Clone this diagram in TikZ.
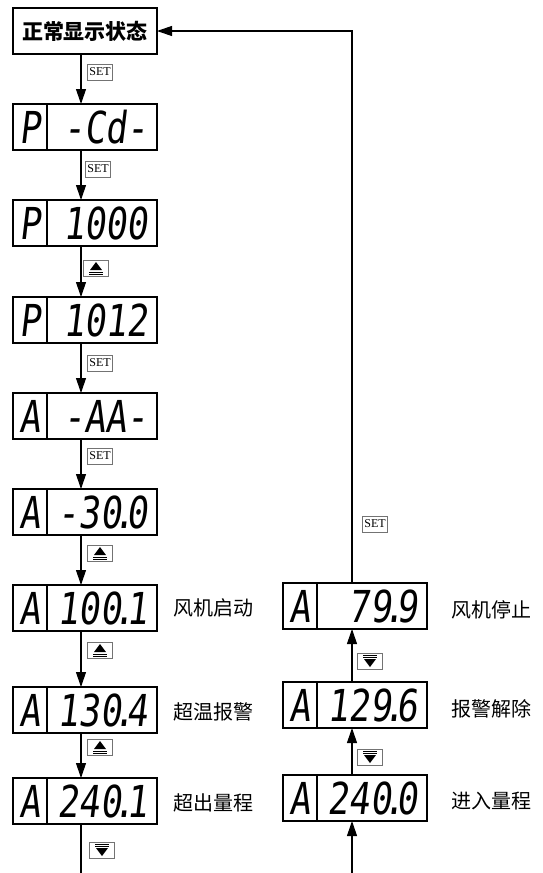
\documentclass[tikz,border=0pt]{standalone}
\usepackage{fontspec}
\newfontfamily\cjk{Noto Sans CJK SC}
\newfontfamily\lcdfont[FakeSlant=0.12,FakeStretch=0.8]{DejaVu Sans Mono}
\newfontfamily\keyfont{Liberation Serif}
\usetikzlibrary{arrows.meta}
\newcommand\dt{\kern-0.18em.\kern-0.18em}
\tikzset{
  ln/.style={line width=1.1pt},
  arr/.style={ln,-{Triangle[length=15pt,width=10pt]}},
  dbox/.style={draw,ln,minimum width=144pt,minimum height=46pt,inner sep=0pt,outer sep=0pt},
  lcd/.style={font=\lcdfont\fontsize{44}{44}\selectfont,inner sep=0pt,text height=32pt,text depth=0pt},
  keybox/.style={draw=black!55,line width=0.6pt,fill=white,minimum width=25pt,minimum height=16pt,inner sep=0pt},
  setkey/.style={keybox,font=\keyfont\fontsize{12}{12}\selectfont},
  side/.style={font=\cjk\fontsize{20}{20}\selectfont,inner sep=0pt},
}
\newcommand\disp[4]{%
  \node[dbox] (#1) at #2 {};
  \draw[ln] ([xshift=34pt]#1.north west) -- ([xshift=34pt]#1.south west);
  \node[lcd] (#1-l) at ([xshift=17pt]#1.west) {#3};
  \node[lcd,anchor=east] (#1-v) at ([xshift=-9pt]#1.east) {#4};
}
\newcommand\keyup[2]{%
  \node[keybox] (#1) at #2 {};
  \fill ([shift={(-6,2)}]#1.center) -- ([shift={(6,2)}]#1.center) -- ([shift={(0,-6)}]#1.center) -- cycle;
  \draw[line width=0.7pt] ([shift={(-7,4)}]#1.center) -- ([shift={(7,4)}]#1.center);
  \draw[line width=0.7pt] ([shift={(-7,6)}]#1.center) -- ([shift={(7,6)}]#1.center);
}
\newcommand\keydown[2]{%
  \node[keybox] (#1) at #2 {};
  \fill ([shift={(-6,-2)}]#1.center) -- ([shift={(6,-2)}]#1.center) -- ([shift={(0,6)}]#1.center) -- cycle;
  \draw[line width=0.7pt] ([shift={(-7,-4)}]#1.center) -- ([shift={(7,-4)}]#1.center);
  \draw[line width=0.7pt] ([shift={(-7,-6)}]#1.center) -- ([shift={(7,-6)}]#1.center);
}
\begin{document}
\begin{tikzpicture}[x=1pt,y=-1pt]
\useasboundingbox (0,0) rectangle (543,873);
\fill[white] (0,0) rectangle (543,873);
% top box
\node[dbox,font=\cjk\bfseries\fontsize{21}{21}\selectfont] (top) at (85,31) {正常显示状态};
% left column
\disp{p1}{(85,127)}{P}{-Cd-}
\disp{p2}{(85,223)}{P}{1000}
\disp{p3}{(85,320)}{P}{1012}
\disp{a1}{(85,416)}{A}{-AA-}
\disp{a2}{(85,512)}{A}{-30\dt0}
\disp{a3}{(85,608)}{A}{100\dt1}
\disp{a4}{(85,710)}{A}{130\dt4}
\disp{a5}{(85,801)}{A}{240\dt1}
% right column
\disp{r1}{(355,606)}{A}{79\dt9}
\disp{r2}{(355,705)}{A}{129\dt6}
\disp{r3}{(355,798)}{A}{240\dt0}
% side labels
\node[side] (s1) at (213,608) {风机启动};
\node[side] (s2) at (213,712) {超温报警};
\node[side] (s3) at (213,803) {超出量程};
\node[side] (s4) at (491,610) {风机停止};
\node[side] (s5) at (491,709) {报警解除};
\node[side] (s6) at (491,801) {进入量程};
% connectors left
\draw[arr] ([xshift=-4pt]top.south) -- ([xshift=-4pt]p1.north);
\draw[arr] ([xshift=-4pt]p1.south) -- ([xshift=-4pt]p2.north);
\draw[arr] ([xshift=-4pt]p2.south) -- ([xshift=-4pt]p3.north);
\draw[arr] ([xshift=-4pt]p3.south) -- ([xshift=-4pt]a1.north);
\draw[arr] ([xshift=-4pt]a1.south) -- ([xshift=-4pt]a2.north);
\draw[arr] ([xshift=-4pt]a2.south) -- ([xshift=-4pt]a3.north);
\draw[arr] ([xshift=-4pt]a3.south) -- ([xshift=-4pt]a4.north);
\draw[arr] ([xshift=-4pt]a4.south) -- ([xshift=-4pt]a5.north);
\coordinate (lend) at (81,873);
\draw[ln] ([xshift=-4pt]a5.south) -- (lend);
% connectors right
\coordinate (rstart) at (352,873);
\draw[arr] (rstart) -- ([xshift=-3pt]r3.south);
\draw[arr] ([xshift=-3pt]r3.north) -- ([xshift=-3pt]r2.south);
\draw[arr] ([xshift=-3pt]r2.north) -- ([xshift=-3pt]r1.south);
\draw[arr] ([xshift=-3pt]r1.north) |- (top.east);
% key labels
\node[setkey] (k1) at (100,72) {SET};
\node[setkey] (k2) at (98,169) {SET};
\keyup{k3}{(96,268)}
\node[setkey] (k4) at (100,363) {SET};
\node[setkey] (k5) at (100,456) {SET};
\keyup{k6}{(100,553)}
\keyup{k7}{(100,650)}
\keyup{k8}{(100,747)}
\keydown{k9}{(102,850)}
\node[setkey] (k10) at (375,524) {SET};
\keydown{k11}{(370,661)}
\keydown{k12}{(370,757)}
\end{tikzpicture}
\end{document}
